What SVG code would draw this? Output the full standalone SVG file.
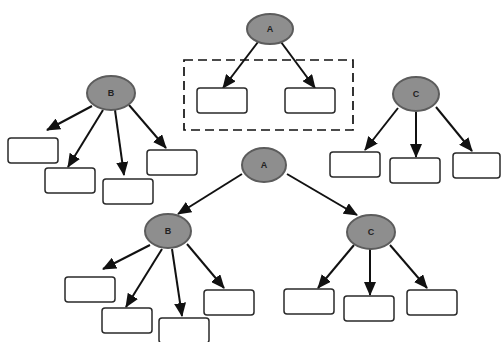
<svg xmlns="http://www.w3.org/2000/svg" width="501" height="342" viewBox="0 0 501 342">
  <defs>
    <marker id="arrow" markerUnits="userSpaceOnUse" markerWidth="14" markerHeight="12" refX="13" refY="6" orient="auto">
      <path d="M0,0 L14,6 L0,12 z" fill="#111"/>
    </marker>
    <style>
      .node ellipse { fill: #8e8e8e; stroke: #5c5c5c; stroke-width: 2; }
      .node text { font-family: "Liberation Sans", Arial, sans-serif; font-size: 9px; font-weight: bold; fill: #222; text-anchor: middle; dominant-baseline: central; }
      .leaf rect { fill: #fff; stroke: #2a2a2a; stroke-width: 1.5; }
      .edges line { stroke: #111; stroke-width: 2; marker-end: url(#arrow); }
      .group-frame { fill: none; stroke: #111; stroke-width: 1.7; stroke-dasharray: 9 5; }
    </style>
  </defs>
  <rect width="501" height="342" fill="#fff"/>

  <!-- dashed frame around the children of the top root -->
  <rect class="group-frame" x="184" y="60" width="169" height="70"/>

  <!-- connectors -->
  <g id="connectors" class="edges">
    <line x1="258" y1="42" x2="223" y2="88"/>
    <line x1="281" y1="42" x2="315" y2="88"/>

    <line x1="92" y1="106" x2="47" y2="130"/>
    <line x1="103" y1="110" x2="68" y2="167"/>
    <line x1="115" y1="110" x2="124" y2="175"/>
    <line x1="129" y1="105" x2="166" y2="148"/>

    <line x1="398" y1="108" x2="365" y2="150"/>
    <line x1="416" y1="112" x2="416" y2="157"/>
    <line x1="436" y1="107" x2="472" y2="151"/>

    <line x1="242" y1="174" x2="178" y2="214"/>
    <line x1="287" y1="174" x2="357" y2="215"/>

    <line x1="150" y1="245" x2="103" y2="269"/>
    <line x1="162" y1="249" x2="126" y2="307"/>
    <line x1="172" y1="249" x2="182" y2="316"/>
    <line x1="187" y1="244" x2="224" y2="288"/>

    <line x1="354" y1="245" x2="318" y2="288"/>
    <line x1="370" y1="249" x2="370" y2="295"/>
    <line x1="390" y1="245" x2="427" y2="288"/>
  </g>

  <!-- top tree A -->
  <g id="node-a-top" class="node"><ellipse cx="270" cy="29" rx="23" ry="15"/><text x="270" y="29">A</text></g>
  <g id="leaf-a1" class="leaf"><rect x="197" y="88" width="50" height="25" rx="3"/></g>
  <g id="leaf-a2" class="leaf"><rect x="285" y="88" width="50" height="25" rx="3"/></g>

  <!-- tree B (upper left) -->
  <g id="node-b-top" class="node"><ellipse cx="111" cy="93" rx="24" ry="17"/><text x="111" y="93">B</text></g>
  <g id="leaf-b1" class="leaf"><rect x="8" y="138" width="50" height="25" rx="3"/></g>
  <g id="leaf-b2" class="leaf"><rect x="45" y="168" width="50" height="25" rx="3"/></g>
  <g id="leaf-b3" class="leaf"><rect x="103" y="179" width="50" height="25" rx="3"/></g>
  <g id="leaf-b4" class="leaf"><rect x="147" y="150" width="50" height="25" rx="3"/></g>

  <!-- tree C (upper right) -->
  <g id="node-c-top" class="node"><ellipse cx="416" cy="94" rx="23" ry="17"/><text x="416" y="94">C</text></g>
  <g id="leaf-c1" class="leaf"><rect x="330" y="152" width="50" height="25" rx="3"/></g>
  <g id="leaf-c2" class="leaf"><rect x="390" y="158" width="50" height="25" rx="3"/></g>
  <g id="leaf-c3" class="leaf"><rect x="453" y="153" width="47" height="25" rx="3"/></g>

  <!-- lower combined tree -->
  <g id="node-a-root" class="node"><ellipse cx="264" cy="165" rx="22" ry="17"/><text x="264" y="165">A</text></g>

  <g id="node-b-sub" class="node"><ellipse cx="168" cy="231" rx="23" ry="17"/><text x="168" y="231">B</text></g>
  <g id="leaf-b5" class="leaf"><rect x="65" y="277" width="50" height="25" rx="3"/></g>
  <g id="leaf-b6" class="leaf"><rect x="102" y="308" width="50" height="25" rx="3"/></g>
  <g id="leaf-b7" class="leaf"><rect x="159" y="318" width="50" height="25" rx="3"/></g>
  <g id="leaf-b8" class="leaf"><rect x="204" y="290" width="50" height="25" rx="3"/></g>

  <g id="node-c-sub" class="node"><ellipse cx="371" cy="232" rx="24" ry="17"/><text x="371" y="232">C</text></g>
  <g id="leaf-c4" class="leaf"><rect x="284" y="289" width="50" height="25" rx="3"/></g>
  <g id="leaf-c5" class="leaf"><rect x="344" y="296" width="50" height="25" rx="3"/></g>
  <g id="leaf-c6" class="leaf"><rect x="407" y="290" width="50" height="25" rx="3"/></g>
</svg>
